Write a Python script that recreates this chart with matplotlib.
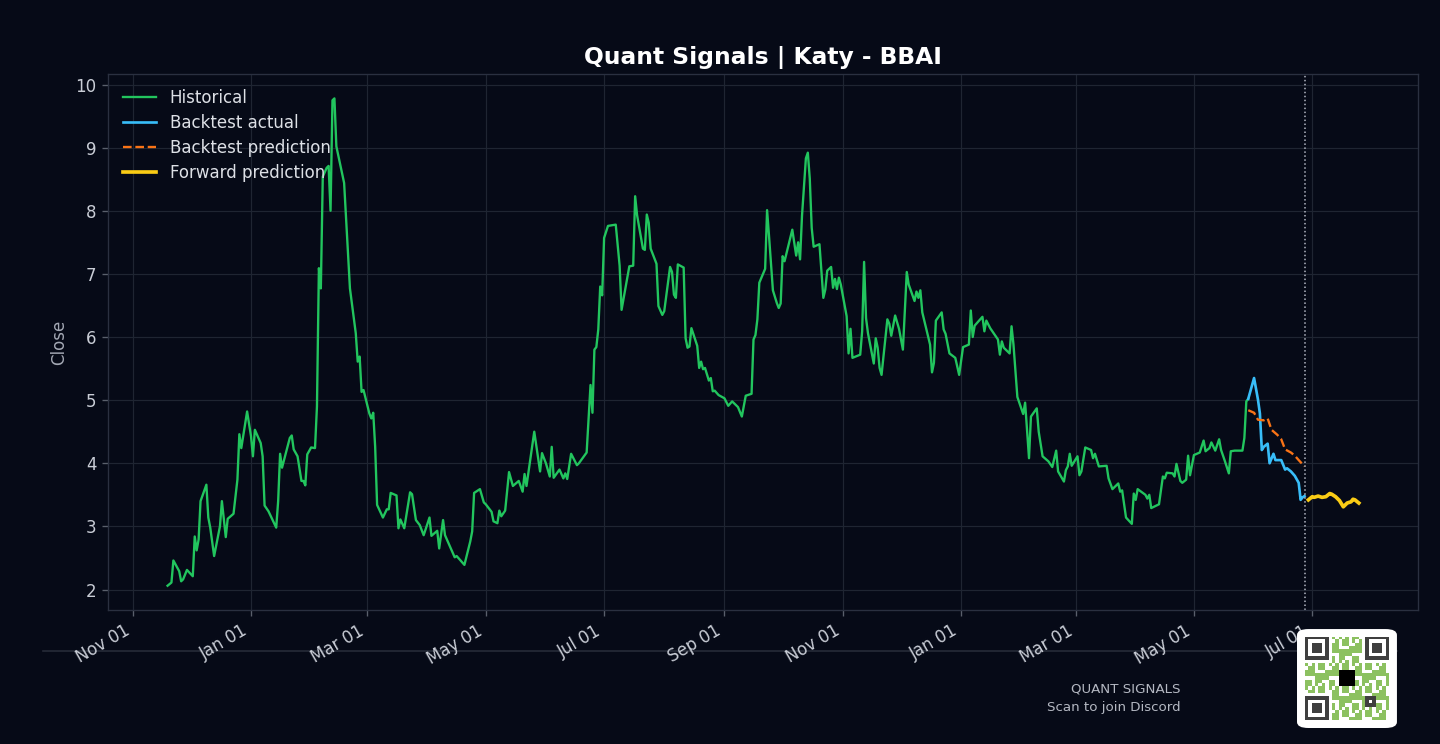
import matplotlib
matplotlib.use("Agg")
import matplotlib.pyplot as plt
import matplotlib.dates as mdates
from matplotlib.patches import FancyBboxPatch
from matplotlib.lines import Line2D
import numpy as np
import pandas as pd

# Tage ab 2023-11-01 und Schlusskurse
hist_day = [18, 20, 21, 24, 25, 26, 28, 31, 32, 33,
            34, 35, 38, 39, 40, 42, 45, 46, 48, 49,
            52, 54, 55, 56, 59, 61, 62, 63, 66, 67,
            68, 70, 74, 75, 76, 77, 81, 82, 83, 85,
            87, 88, 89, 90, 92, 94, 95, 96, 97, 98,
            100, 101, 102, 103, 104, 105, 109, 112, 115, 116,
            117, 118, 119, 122, 123, 124, 125, 126, 129, 131,
            132, 133, 136, 137, 138, 140, 143, 144, 146, 148,
            150, 153, 154, 157, 158, 160, 161, 164, 166, 167,
            171, 174, 175, 176, 179, 181, 182, 185, 186, 188,
            189, 190, 192, 194, 196, 199, 201, 202, 203, 207,
            210, 211, 213, 215, 216, 217, 220, 222, 223, 224,
            226, 229, 230, 234, 236, 237, 238, 239, 240, 241,
            242, 243, 245, 249, 251, 252, 256, 258, 259, 260,
            263, 264, 265, 266, 267, 270, 271, 273, 274, 277,
            278, 279, 280, 281, 284, 285, 286, 287, 288, 291,
            292, 293, 294, 295, 297, 298, 299, 300, 302, 305,
            307, 309, 312, 314, 316, 319, 320, 321, 322, 323,
            326, 327, 328, 330, 332, 333, 334, 335, 336, 340,
            342, 343, 344, 345, 347, 348, 349, 350, 351, 354,
            356, 357, 358, 360, 361, 362, 363, 364, 365, 368,
            369, 370, 371, 375, 376, 377, 378, 379, 382, 383,
            384, 385, 386, 389, 390, 391, 393, 395, 397, 399,
            400, 403, 404, 405, 406, 407, 411, 412, 413, 414,
            417, 418, 419, 421, 424, 426, 428, 431, 432, 433,
            434, 438, 439, 440, 442, 446, 447, 448, 449, 452,
            453, 454, 456, 458, 459, 460, 462, 463, 466, 467,
            469, 472, 474, 476, 477, 480, 481, 482, 483, 484,
            487, 488, 489, 491, 494, 495, 496, 498, 502, 503,
            505, 508, 509, 510, 512, 515, 516, 517, 518, 522,
            523, 524, 525, 529, 531, 532, 533, 536, 537, 538,
            540, 541, 543, 544, 545, 547, 550, 552, 553, 555,
            556, 558, 560, 561, 563, 565, 566, 568, 572, 573,
            574, 575]
hist_close = [2.06, 2.11, 2.46, 2.29, 2.13, 2.16, 2.31, 2.21, 2.84, 2.62,
              2.79, 3.40, 3.66, 3.14, 2.98, 2.53, 3.00, 3.40, 2.83, 3.12,
              3.20, 3.74, 4.46, 4.24, 4.82, 4.43, 4.11, 4.53, 4.32, 4.11,
              3.33, 3.24, 2.98, 3.40, 4.15, 3.93, 4.40, 4.44, 4.22, 4.11,
              3.72, 3.72, 3.65, 4.14, 4.25, 4.24, 4.90, 7.09, 6.77, 8.54,
              8.68, 8.71, 8.00, 9.75, 9.78, 9.02, 8.44, 6.77, 6.06, 5.61,
              5.69, 5.13, 5.16, 4.79, 4.71, 4.80, 4.26, 3.34, 3.14, 3.27,
              3.27, 3.53, 3.49, 2.97, 3.11, 2.97, 3.54, 3.51, 3.10, 3.02,
              2.86, 3.14, 2.85, 2.93, 2.65, 3.10, 2.86, 2.65, 2.51, 2.53,
              2.39, 2.76, 2.92, 3.53, 3.59, 3.38, 3.35, 3.23, 3.08, 3.05,
              3.25, 3.16, 3.25, 3.86, 3.64, 3.72, 3.55, 3.83, 3.64, 4.50,
              3.87, 4.16, 4.00, 3.79, 4.26, 3.77, 3.90, 3.76, 3.84, 3.75,
              4.15, 3.97, 4.00, 4.17, 5.24, 4.80, 5.80, 5.84, 6.12, 6.80,
              6.66, 7.57, 7.76, 7.78, 7.13, 6.43, 7.12, 7.13, 8.23, 7.93,
              7.40, 7.38, 7.94, 7.81, 7.40, 7.16, 6.49, 6.35, 6.41, 7.11,
              7.03, 6.67, 6.62, 7.15, 7.10, 5.98, 5.83, 5.85, 6.14, 5.86,
              5.51, 5.61, 5.49, 5.51, 5.31, 5.35, 5.14, 5.15, 5.08, 5.03,
              4.91, 4.98, 4.89, 4.74, 5.07, 5.10, 5.96, 6.03, 6.28, 6.86,
              7.08, 8.01, 7.60, 6.74, 6.54, 6.46, 6.53, 7.28, 7.20, 7.70,
              7.29, 7.50, 7.23, 7.92, 8.83, 8.92, 8.51, 7.73, 7.43, 7.47,
              6.62, 6.75, 7.05, 7.11, 6.78, 6.92, 6.76, 6.94, 6.83, 6.33,
              5.74, 6.13, 5.67, 5.72, 6.09, 7.19, 6.30, 6.06, 5.58, 5.98,
              5.83, 5.51, 5.40, 6.28, 6.21, 6.02, 6.34, 6.13, 5.80, 7.03,
              6.83, 6.57, 6.72, 6.62, 6.74, 6.39, 5.88, 5.44, 5.59, 6.26,
              6.39, 6.12, 6.05, 5.74, 5.67, 5.40, 5.84, 5.88, 6.42, 6.00,
              6.18, 6.32, 6.09, 6.26, 6.14, 5.96, 5.72, 5.93, 5.83, 5.74,
              6.17, 5.88, 5.05, 4.87, 4.78, 4.96, 4.08, 4.74, 4.87, 4.50,
              4.11, 4.03, 3.94, 4.20, 3.87, 3.71, 3.89, 3.95, 4.15, 3.96,
              4.11, 3.81, 3.87, 4.25, 4.21, 4.08, 4.15, 3.95, 3.96, 3.76,
              3.59, 3.68, 3.55, 3.57, 3.14, 3.04, 3.52, 3.42, 3.59, 3.50,
              3.44, 3.50, 3.29, 3.35, 3.79, 3.76, 3.85, 3.84, 3.79, 3.99,
              3.72, 3.69, 3.74, 4.12, 3.81, 4.13, 4.17, 4.36, 4.19, 4.24,
              4.33, 4.20, 4.38, 4.21, 4.03, 3.84, 4.19, 4.20, 4.20, 4.40,
              4.98, 5.02]

bt_day = [575, 578, 580, 581, 582, 583, 585, 586, 588, 589,
          592, 594, 595, 597, 599, 601, 602, 603, 604]
bt_actual = [5.02, 5.35, 5.01, 4.79, 4.21, 4.26, 4.31, 4.00, 4.15, 4.05,
             4.05, 3.90, 3.92, 3.87, 3.80, 3.69, 3.42, 3.46, 3.48]

bt_pred_day = [575, 578, 580, 583, 585, 587, 590, 592, 594, 597, 599, 601, 604]
bt_pred = [4.84, 4.80, 4.69, 4.68, 4.71, 4.53, 4.45, 4.38, 4.22, 4.17, 4.12, 4.05, 3.95]

fwd_day = [606, 608, 609, 611, 613, 615, 617, 618, 620, 622, 624, 626, 628, 629, 630, 632]
fwd_pred = [3.42, 3.47, 3.46, 3.48, 3.46, 3.47, 3.52, 3.51, 3.47, 3.41,
            3.31, 3.37, 3.39, 3.43, 3.42, 3.37]

START = pd.Timestamp("2023-11-01")


def to_dates(days):
    return START + pd.to_timedelta(days, unit="D")


BG = "#060a17"
GRID = "#1f2532"
SPINE = "#2a3040"
TXT = "#c9cdd6"

fig = plt.figure(figsize=(12, 6.2), dpi=120, facecolor=BG)
ax = fig.add_axes([0.075, 0.18, 0.91, 0.7205])
ax.set_facecolor(BG)

ax.plot(to_dates(hist_day), hist_close, color="#22c55e", lw=1.4, label="Historical")
ax.plot(to_dates(bt_day), bt_actual, color="#38bdf8", lw=1.6, label="Backtest actual")
ax.plot(to_dates(bt_pred_day), bt_pred, color="#f97316", lw=1.4, ls="--", label="Backtest prediction")
ax.plot(to_dates(fwd_day), fwd_pred, color="#facc15", lw=2.2, label="Forward prediction")
ax.axvline(to_dates([bt_day[-1]])[0], color="#b8bcc8", ls=":", lw=0.9)

ax.grid(True, color=GRID, lw=0.7)
ax.set_axisbelow(True)
for s in ax.spines.values():
    s.set_color(SPINE)

ax.xaxis.set_major_locator(mdates.MonthLocator(bymonth=[1, 3, 5, 7, 9, 11]))
ax.xaxis.set_major_formatter(mdates.DateFormatter("%b %d"))
ax.tick_params(colors="#5a606c", labelcolor=TXT, labelsize=10)
plt.setp(ax.get_xticklabels(), rotation=30, ha="right")

ax.set_ylabel("Close", color="#a3a8b4", fontsize=10)
ax.set_title("Quant Signals | Katy - BBAI", color="white", fontsize=14, fontweight="bold")

leg = ax.legend(loc="upper left", frameon=False, fontsize=10, labelspacing=0.42)
for t in leg.get_texts():
    t.set_color("#dde0e6")

# Trennlinie unten
fig.add_artist(Line2D([0.03, 0.97], [0.125, 0.125], color="#262b38", lw=1, zorder=-1))

fig.text(0.82, 0.074, "QUANT SIGNALS", color="#b4b8c2", fontsize=8, ha="right", va="center")
fig.text(0.82, 0.0495, "Scan to join Discord", color="#b4b8c2", fontsize=8, ha="right", va="center")

# QR-Kasten
box = FancyBboxPatch((0.9007, 0.0215), 0.0694, 0.133, boxstyle="round,pad=0,rounding_size=0.008",
                     transform=fig.transFigure, facecolor="white", edgecolor="none", zorder=3)
fig.add_artist(box)

n = 25
img = np.ones((n, n, 3))
green = np.array([0.55, 0.76, 0.38])
dark = np.array([0.25, 0.25, 0.25])
for i in range(n):
    for j in range(n):
        if (i * i + 3 * j + i * j) % 7 < 4:
            img[i, j] = green


def finder(r, c):
    img[r:r + 7, c:c + 7] = dark
    img[r + 1:r + 6, c + 1:c + 6] = 1.0
    img[r + 2:r + 5, c + 2:c + 5] = dark


finder(0, 0)
finder(0, n - 7)
finder(n - 7, 0)
img[0:8, 7] = 1.0
img[7, 0:8] = 1.0
img[0:8, n - 8] = 1.0
img[7, n - 8:n] = 1.0
img[n - 8, 0:8] = 1.0
img[n - 8:n, 7] = 1.0
img[10:15, 10:15] = 0.0
img[18:21, 18:21] = dark
img[19, 19] = 1.0

qax = fig.add_axes([0.906, 0.032, 0.0583, 0.1116])
qax.set_zorder(5)
qax.imshow(img, aspect="auto", interpolation="nearest")
qax.axis("off")

fig.savefig("out.png", dpi=120, facecolor=BG)
